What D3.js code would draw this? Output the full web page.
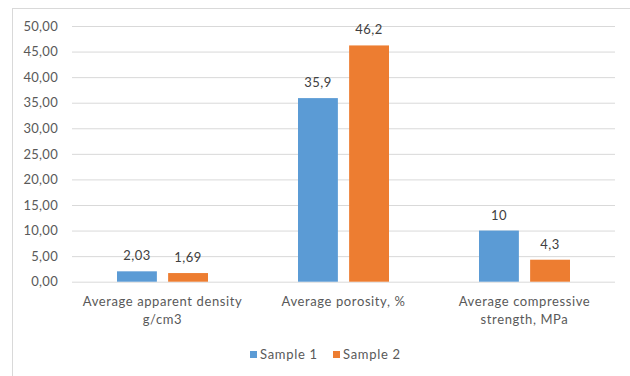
<!DOCTYPE html>
<html>
<head>
<meta charset="utf-8">
<script src="https://cdn.jsdelivr.net/npm/d3@7"></script>
<style>
  html, body { margin: 0; padding: 0; background: #fff; }
  svg { display: block; }
  text { font-family: Lato, "Open Sans", sans-serif; fill: #595959; }
</style>
</head>
<body>
<svg id="chart" width="630" height="376"></svg>
<script>
// Measured properties of the two samples
const categories = [
  ["Average apparent density", "g/cm3"],
  ["Average porosity, %"],
  ["Average compressive", "strength, MPa"]
];
const seriesNames = ["Sample 1", "Sample 2"];
const sample1 = [2.03, 35.9, 10];
const sample2 = [1.69, 46.2, 4.3];
const sample1Labels = ["2,03", "35,9", "10"];
const sample2Labels = ["1,69", "46,2", "4,3"];
const yTicks = [0, 5, 10, 15, 20, 25, 30, 35, 40, 45, 50];
const colors = ["#5B9BD5", "#ED7D31"];

const svg = d3.select("#chart");
const plot = { left: 72, right: 615, top: 26, bottom: 281.7 };
const groupWidth = 91;

// chart frame
svg.append("rect")
  .attr("x", 12.5).attr("y", 8.5)
  .attr("width", 640).attr("height", 400)
  .attr("fill", "#fff").attr("stroke", "#D9D9D9").attr("stroke-width", 1);

const x0 = d3.scaleBand()
  .domain(d3.range(categories.length))
  .range([plot.left, plot.right]);

const x1 = d3.scaleBand()
  .domain(d3.range(seriesNames.length))
  .range([0, groupWidth])
  .paddingInner(0.22);

const y = d3.scaleLinear().domain([0, 50]).range([plot.bottom, plot.top]);

// gridlines and value axis
const fmt = d => d3.format(".2f")(d).replace(".", ",");
const yAxis = d3.axisLeft(y).tickValues(yTicks).tickFormat(fmt)
  .tickSize(-(plot.right - plot.left)).tickPadding(14);
const gy = svg.append("g").attr("transform", `translate(${plot.left},0)`).call(yAxis);
gy.select(".domain").remove();
gy.selectAll(".tick line").attr("stroke", "#D9D9D9").attr("stroke-width", 1);
gy.selectAll(".tick text").attr("font-size", 13).attr("letter-spacing", 0.3).style("fill", "#595959");

// bars with value labels
const series = [sample1, sample2];
const labels = [sample1Labels, sample2Labels];
const barX = (i, si) => x0(i) + (x0.bandwidth() - groupWidth) / 2 + x1(si);
series.forEach((vals, si) => {
  const g = svg.append("g");
  g.selectAll("rect").data(vals).join("rect")
    .attr("x", (d, i) => barX(i, si))
    .attr("y", d => y(d))
    .attr("width", x1.bandwidth())
    .attr("height", d => y(0) - y(d))
    .attr("fill", colors[si]);
  g.selectAll("text").data(vals).join("text")
    .attr("x", (d, i) => barX(i, si) + x1.bandwidth() / 2)
    .attr("y", d => y(d) - 11)
    .attr("text-anchor", "middle")
    .attr("font-size", 13)
    .attr("letter-spacing", 0.5)
    .style("fill", "#404040")
    .text((d, i) => labels[si][i]);
});

// category labels
const cat = svg.append("g");
categories.forEach((lines, i) => {
  const cx = x0(i) + x0.bandwidth() / 2;
  const t = cat.append("text")
    .attr("x", cx)
    .attr("y", 306)
    .attr("text-anchor", "middle")
    .attr("font-size", 13)
    .attr("letter-spacing", 0.6);
  lines.forEach((ln, k) => {
    t.append("tspan")
      .attr("x", cx)
      .attr("dy", k === 0 ? 0 : 18)
      .text(ln);
  });
});

// legend
const legendX = [250, 333];
const leg = svg.append("g");
seriesNames.forEach((name, i) => {
  leg.append("rect")
    .attr("x", legendX[i]).attr("y", 351)
    .attr("width", 7).attr("height", 7)
    .attr("fill", colors[i]);
  leg.append("text")
    .attr("x", legendX[i] + 10).attr("y", 359)
    .attr("font-size", 13)
    .attr("letter-spacing", 0.7)
    .text(name);
});
</script>
</body>
</html>
